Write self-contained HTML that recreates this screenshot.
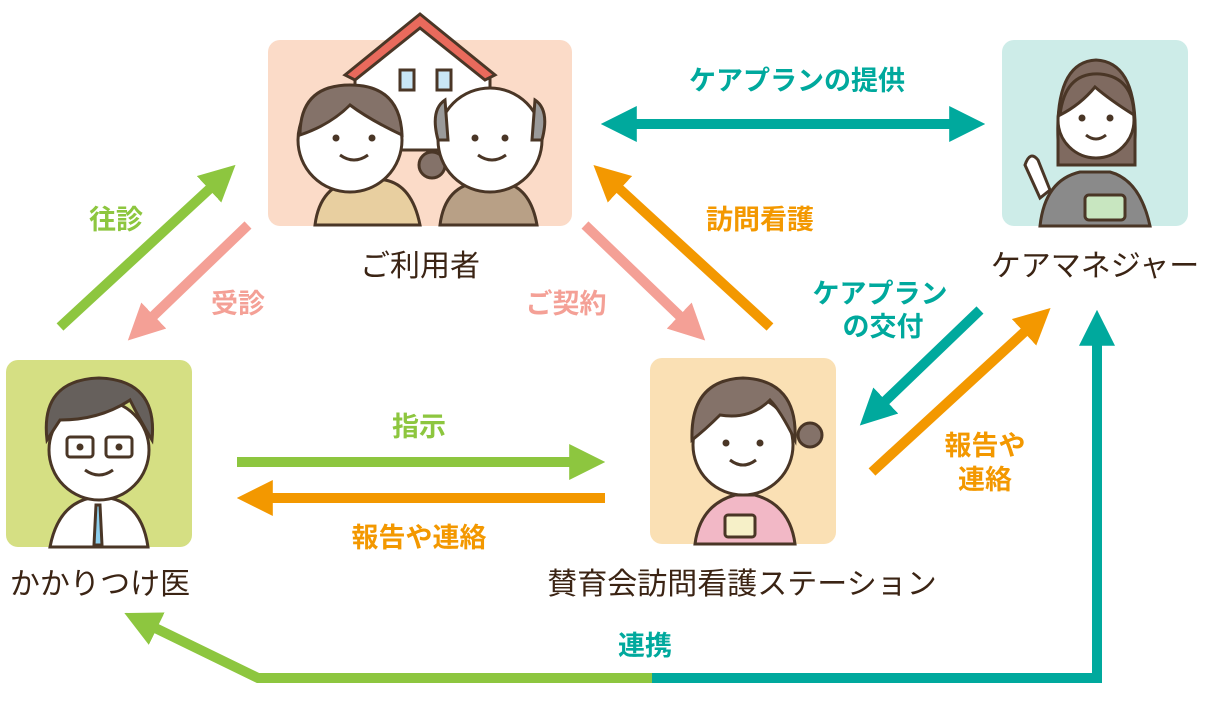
<!DOCTYPE html>
<html><head><meta charset="utf-8"><style>
html,body{margin:0;padding:0;background:#fff;width:1211px;height:713px;overflow:hidden}
svg text{font-family:"Liberation Sans","Noto Sans CJK JP",sans-serif}
.lbl{font-size:30px;fill:#3b2414}
.al{font-size:27px;font-weight:bold}
</style></head><body>
<svg width="1211" height="713" viewBox="0 0 1211 713" xmlns="http://www.w3.org/2000/svg">
<defs>
<marker id="mT" viewBox="0 0 10 10" refX="3" refY="5" markerWidth="3.6" markerHeight="3.6" orient="auto-start-reverse" markerUnits="strokeWidth"><path d="M0,0L10,5L0,10z" fill="#00a99d"/></marker>
<marker id="mG" viewBox="0 0 10 10" refX="3" refY="5" markerWidth="3.6" markerHeight="3.6" orient="auto" markerUnits="strokeWidth"><path d="M0,0L10,5L0,10z" fill="#8dc63f"/></marker>
<marker id="mP" viewBox="0 0 10 10" refX="3" refY="5" markerWidth="3.6" markerHeight="3.6" orient="auto" markerUnits="strokeWidth"><path d="M0,0L10,5L0,10z" fill="#f4a096"/></marker>
<marker id="mO" viewBox="0 0 10 10" refX="3" refY="5" markerWidth="3.6" markerHeight="3.6" orient="auto" markerUnits="strokeWidth"><path d="M0,0L10,5L0,10z" fill="#f39800"/></marker>
</defs>

<rect x="268" y="40" width="304" height="186" rx="12" fill="#fbdbc8"/>
<rect x="1002" y="40" width="186" height="186" rx="12" fill="#cdece8"/>
<rect x="6" y="360" width="186" height="187" rx="12" fill="#d5df83"/>
<rect x="650" y="358" width="186" height="186" rx="12" fill="#fae0b4"/>

<g stroke="#4a3626" stroke-width="3">
<path d="M355,75 L420,15 L490,75 L490,150 L355,150z" fill="#fff"/>
<path d="M345,75 L420,14 L495,75 L485,80 L420,28 L355,80z" fill="#e96a5c"/>
<rect x="400" y="70" width="14" height="20" fill="#c9e6f5"/>
<rect x="437" y="70" width="14" height="20" fill="#c9e6f5"/>
<path d="M315,225 Q320,185 355,180 L385,180 Q412,185 420,225z" fill="#e8cfa0"/>
<path d="M440,225 Q445,185 480,182 L500,182 Q530,185 537,225z" fill="#b8a086"/>
<circle cx="432" cy="165" r="13" fill="#847269"/>
<circle cx="350" cy="140" r="52" fill="#fff"/>
<path d="M300,135 Q300,85 350,85 Q400,85 402,135 Q370,120 350,105 Q330,125 300,135z" fill="#847269"/>
<circle cx="490" cy="140" r="52" fill="#fff"/>
<path d="M438,140 Q430,110 445,100 L448,140z" fill="#9a9a9a"/>
<path d="M542,140 Q550,110 535,100 L532,140z" fill="#9a9a9a"/>
</g>
<g fill="#4a3626"><circle cx="336" cy="138" r="3.5"/><circle cx="372" cy="138" r="3.5"/><circle cx="475" cy="138" r="3.5"/><circle cx="505" cy="138" r="3.5"/></g>
<g fill="none" stroke="#4a3626" stroke-width="3"><path d="M340,155 Q354,165 368,155"/><path d="M478,155 Q492,165 506,155"/></g>

<g stroke="#4a3626" stroke-width="3">
<path d="M1058,140 Q1055,62 1096,60 Q1138,62 1135,140 L1135,165 L1058,165z" fill="#7f6a60"/>
<path d="M1040,226 Q1045,180 1080,172 L1110,172 Q1140,180 1150,226z" fill="#8a8a8a"/>
<circle cx="1096" cy="120" r="38" fill="#fff"/>
<path d="M1060,115 Q1065,72 1100,74 Q1133,77 1134,115 Q1110,100 1095,87 Q1080,105 1060,115z" fill="#7f6a60"/>
<path d="M1025,165 Q1030,150 1038,160 L1050,190 L1040,198z" fill="#fff"/>
<rect x="1085" y="195" width="40" height="25" rx="4" fill="#c8e6c0"/>
</g>
<g fill="#4a3626"><circle cx="1082" cy="118" r="3.5"/><circle cx="1110" cy="118" r="3.5"/></g>
<path d="M1086,135 Q1096,143 1106,135" fill="none" stroke="#4a3626" stroke-width="3"/>

<g stroke="#4a3626" stroke-width="3">
<path d="M50,547 Q58,505 90,498 L110,498 Q142,505 148,547z" fill="#fff"/>
<path d="M96,505 L100,505 L102,545 L94,545z" fill="#8dcfee"/>
<circle cx="99" cy="450" r="50" fill="#fff"/>
<path d="M47,440 Q40,380 99,378 Q158,380 152,440 Q140,420 130,400 Q100,420 60,420z" fill="#66605c"/>
<rect x="67" y="437" width="26" height="20" rx="3" fill="none"/>
<rect x="106" y="437" width="26" height="20" rx="3" fill="none"/>
</g>
<g fill="#4a3626"><circle cx="80" cy="447" r="3.5"/><circle cx="119" cy="447" r="3.5"/></g>
<path d="M85,470 Q99,480 113,470" fill="none" stroke="#4a3626" stroke-width="3"/>

<g stroke="#4a3626" stroke-width="3">
<path d="M695,544 Q700,505 735,495 L755,495 Q790,505 795,544z" fill="#f2b8c6"/>
<circle cx="810" cy="435" r="12" fill="#847269"/>
<circle cx="743" cy="445" r="50" fill="#fff"/>
<path d="M692,440 Q690,380 743,378 Q798,380 795,440 Q780,410 770,400 Q750,420 720,415 Q705,430 692,440z" fill="#847269"/>
<rect x="725" y="515" width="30" height="22" rx="3" fill="#f6f0c8"/>
</g>
<g fill="#4a3626"><circle cx="726" cy="443" r="3.5"/><circle cx="760" cy="443" r="3.5"/></g>
<path d="M730,460 Q743,470 756,460" fill="none" stroke="#4a3626" stroke-width="3"/>

<g stroke-width="10" fill="none">
<line x1="626" y1="124" x2="960" y2="124" stroke="#00a99d" marker-start="url(#mT)" marker-end="url(#mT)"/>
<line x1="60" y1="327" x2="217" y2="182" stroke="#8dc63f" marker-end="url(#mG)"/>
<line x1="248" y1="225" x2="146" y2="323" stroke="#f4a096" marker-end="url(#mP)"/>
<line x1="585" y1="225" x2="687" y2="323" stroke="#f4a096" marker-end="url(#mP)"/>
<line x1="770" y1="327" x2="612" y2="182" stroke="#f39800" marker-end="url(#mO)"/>
<line x1="980" y1="310" x2="878" y2="408" stroke="#00a99d" marker-end="url(#mT)"/>
<line x1="872" y1="472" x2="1032" y2="325" stroke="#f39800" marker-end="url(#mO)"/>
<line x1="237" y1="462" x2="580" y2="462" stroke="#8dc63f" marker-end="url(#mG)"/>
<line x1="605" y1="498" x2="262" y2="498" stroke="#f39800" marker-end="url(#mO)"/>
<polyline points="1097,678 650,678" stroke="#00a99d"/>
<line x1="1097" y1="683" x2="1097" y2="335" stroke="#00a99d" marker-end="url(#mT)"/>
<polyline points="652,678 258,678 147,624" stroke="#8dc63f" marker-end="url(#mG)"/>
</g>

<g class="al" text-anchor="middle">
<text x="797" y="90" fill="#00a99d">ケアプランの提供</text>
<text x="116" y="229" fill="#8dc63f">往診</text>
<text x="238" y="313" fill="#f4a096">受診</text>
<text x="566" y="313" fill="#f4a096">ご契約</text>
<text x="760" y="229" fill="#f39800">訪問看護</text>
<text x="880" y="303" fill="#00a99d">ケアプラン</text>
<text x="883" y="336" fill="#00a99d">の交付</text>
<text x="985" y="455" fill="#f39800">報告や</text>
<text x="985" y="489" fill="#f39800">連絡</text>
<text x="419" y="436" fill="#8dc63f">指示</text>
<text x="419" y="547" fill="#f39800">報告や連絡</text>
<text x="645" y="655" fill="#00a99d">連携</text>
</g>

<g class="lbl" text-anchor="middle">
<text x="420" y="276">ご利用者</text>
<text x="1095" y="276">ケアマネジャー</text>
<text x="100" y="594">かかりつけ医</text>
<text x="742" y="594">賛育会訪問看護ステーション</text>
</g>
</svg>
</body></html>
